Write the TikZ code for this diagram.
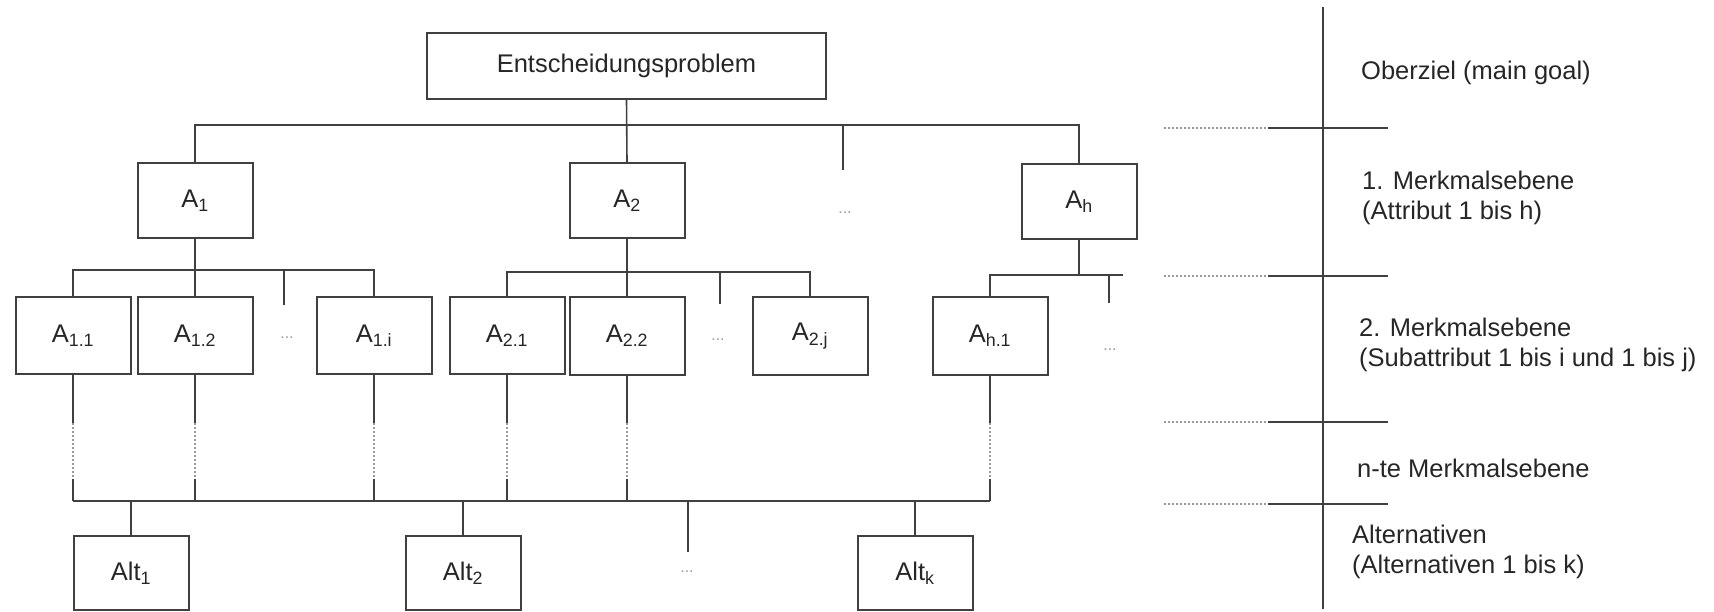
\documentclass[tikz,border=0pt]{standalone}
\usepackage{fontspec}
\setmainfont{Liberation Sans}
\definecolor{linec}{HTML}{404040}
\definecolor{textc}{HTML}{262626}
\definecolor{dotc}{HTML}{9A9A9A}
\begin{document}
\begin{tikzpicture}[x=1pt,y=-1pt,
  box/.style={draw=linec, line width=2pt, fill=white, inner sep=0pt,
    minimum width=115pt, font=\fontsize{25.5}{30}\selectfont, text=textc},
  lvlone/.style={box, minimum height=75pt},
  lvltwo/.style={box, minimum height=77pt},
  altbox/.style={box, minimum height=74pt},
  conn/.style={draw=linec, line width=1.6pt},
  faint/.style={draw=dotc, line width=1.4pt, dash pattern=on 2pt off 2pt},
  ell/.style={font=\fontsize{16}{18}\selectfont, text=dotc, inner sep=0pt},
  lbl/.style={anchor=west, font=\fontsize{25.5}{29.5}\selectfont, text=textc, inner sep=0pt, align=left}
]
\useasboundingbox (0,0) rectangle (1714,612);
% --- main goal
\node[box, minimum width=399pt, minimum height=66pt] (top) at (626.5,66) {Entscheidungsproblem};
% --- level 1
\node[lvlone] (A1) at (195,200.5) {A\textsubscript{1}};
\node[lvlone] (A2) at (627,200.5) {A\textsubscript{2}};
\node[lvlone] (Ah) at (1079,202) {A\textsubscript{h}};
\coordinate (stubA) at (843,170);
\node[ell] (e1) at (845,213) {...};
% --- level 2
\node[lvltwo] (A11) at (73,335.5) {A\textsubscript{1.1}};
\node[lvltwo] (A12) at (195,335.5) {A\textsubscript{1.2}};
\node[lvltwo] (A1i) at (374,335.5) {A\textsubscript{1.i}};
\node[lvltwo] (A21) at (507,335.5) {A\textsubscript{2.1}};
\node[lvltwo] (A22) at (627,336) {A\textsubscript{2.2}};
\node[lvltwo] (A2j) at (810,336) {A\textsubscript{2.j}};
\node[lvltwo] (Ah1) at (990,336) {A\textsubscript{h.1}};
\coordinate (stubB) at (284,305);
\coordinate (stubC) at (720,304);
\coordinate (stubD) at (1109,303);
\coordinate (busDend) at (1123,275);
\node[ell] (e2) at (287,338) {...};
\node[ell] (e3) at (718,340) {...};
\node[ell] (e4) at (1110,350) {...};
% --- alternatives
\node[altbox] (Alt1) at (131,573) {Alt\textsubscript{1}};
\node[altbox] (Alt2) at (463,573) {Alt\textsubscript{2}};
\node[altbox] (Altk) at (915,573) {Alt\textsubscript{k}};
\coordinate (stubE) at (688,552);
\node[ell] (e5) at (687,572) {...};
% --- bus joints
\coordinate (busA) at (627,125);
\coordinate (busB) at (195,270);
\coordinate (busC) at (627,272);
\coordinate (busD) at (1079,275);
\coordinate (busE) at (500,501);

% connectors level 0 -> 1
\draw[conn] (top.south) -- (A2.north);
\draw[conn] (A1.north) |- (busA) -| (Ah.north);
\draw[conn] (stubA) -- (stubA |- busA);
% level 1 -> 2
\draw[conn] (A1.south) -- (A12.north);
\draw[conn] (A11.north) |- (busB) -| (A1i.north);
\draw[conn] (stubB) -- (stubB |- busB);
\draw[conn] (A2.south) -- (A22.north);
\draw[conn] (A21.north) |- (busC) -| (A2j.north);
\draw[conn] (stubC) -- (stubC |- busC);
\draw[conn] (Ah.south) -- (busD);
\draw[conn] (Ah1.north) |- (busD) -- (busDend);
\draw[conn] (stubD) -- (stubD |- busD);
% level 2 -> alternatives (solid, dotted, solid)
\foreach \n in {A11,A12,A1i,A21,A22,Ah1}{
  \draw[conn] (\n.south) -- (\n.south |- 0,423);
  \draw[faint] (\n.south |- 0,423) -- (\n.south |- 0,479);
  \draw[conn] (\n.south |- 0,479) -- (\n.south |- busE);
}
\draw[conn] (A11.south |- busE) -- (Ah1.south |- busE);
\draw[conn] (Alt1.north) -- (Alt1.north |- busE);
\draw[conn] (Alt2.north) -- (Alt2.north |- busE);
\draw[conn] (Altk.north) -- (Altk.north |- busE);
\draw[conn] (stubE) -- (stubE |- busE);

% --- right-hand level scale
\draw[conn] (1323,7) -- (1323,609);
\foreach \yy in {128,276,422,504}{
  \draw[faint, line width=1.2pt] (1164,\yy) -- (1268,\yy);
  \draw[conn] (1268,\yy) -- (1388,\yy);
}
\node[lbl] (L0) at (1361,73) {Oberziel (main goal)};
\node[lbl] (L1) at (1362,198) {1. Merkmalsebene\\(Attribut 1 bis h)};
\node[lbl] (L2) at (1359,345) {2. Merkmalsebene\\(Subattribut 1 bis i und 1 bis j)};
\node[lbl] (L3) at (1357,468) {n-te Merkmalsebene};
\node[lbl] (L4) at (1352,552) {Alternativen\\(Alternativen 1 bis k)};
\end{tikzpicture}
\end{document}
